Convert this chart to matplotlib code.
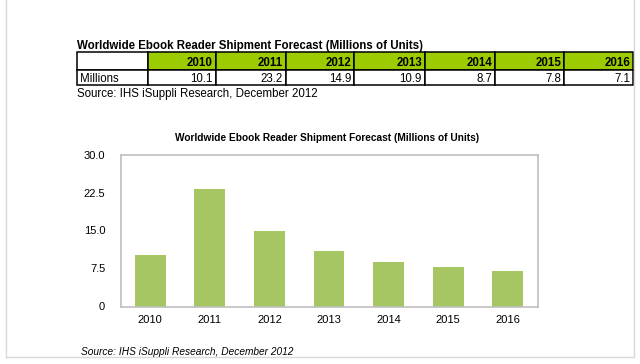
import matplotlib
matplotlib.use('Agg')
import matplotlib.pyplot as plt
from matplotlib.patches import Rectangle
from matplotlib.lines import Line2D

# data
years = ['2010', '2011', '2012', '2013', '2014', '2015', '2016']
millions = [10.1, 23.2, 14.9, 10.9, 8.7, 7.8, 7.1]
yticks = [0, 7.5, 15.0, 22.5, 30.0]
ytick_labels = ['0', '7.5', '15.0', '22.5', '30.0']
title = 'Worldwide Ebook Reader Shipment Forecast (Millions of Units)'
source = 'Source: IHS iSuppli Research, December 2012'

W, H = 640, 364
plt.rcParams['font.family'] = ['Liberation Sans', 'DejaVu Sans']

fig = plt.figure(figsize=(W / 100, H / 100), dpi=100)
fig.patch.set_facecolor('white')


def fx(x):
    return x / W


def fy(y):
    return 1 - y / H


# page frame (light gray)
frame = '#d9d9d9'
fig.add_artist(Line2D([fx(6), fx(6)], [1, fy(357)], color=frame, lw=1))
fig.add_artist(Line2D([fx(634), fx(634)], [1, fy(357)], color=frame, lw=1))
fig.add_artist(Line2D([fx(6), fx(634)], [fy(357), fy(357)], color=frame, lw=1))

# ---- table at the top ----
fs = 8.3
fig.text(fx(77), fy(49.5), title, fontsize=fs, fontweight='bold',
         ha='left', va='baseline')

col_edges = [76.7, 147.7, 215.7, 285.7, 354.3, 425, 495, 564, 633.3]
row_edges = [52.5, 69.5, 85.0]
green = '#9ccc00'

for i in range(len(col_edges) - 1):
    x0, x1 = col_edges[i], col_edges[i + 1]
    for j in range(2):
        y0, y1 = row_edges[j], row_edges[j + 1]
        fc = green if (j == 0 and i > 0) else 'white'
        fig.add_artist(Rectangle((fx(x0), fy(y1)), fx(x1 - x0), (y1 - y0) / H,
                                 facecolor=fc, edgecolor='black', lw=1.1))

fig.text(fx(80), fy(81.5), 'Millions', fontsize=fs, ha='left', va='baseline')
for i, (yr, v) in enumerate(zip(years, millions)):
    xr = col_edges[i + 2] - 3
    fig.text(fx(xr), fy(66.5), yr, fontsize=fs, fontweight='bold',
             ha='right', va='baseline')
    fig.text(fx(xr), fy(81.5), '{0:.1f}'.format(v), fontsize=fs,
             ha='right', va='baseline')

fig.text(fx(77), fy(97), source, fontsize=fs, ha='left', va='baseline')

# ---- bar chart ----
ax = fig.add_axes([fx(120.5), fy(306.5), (537.5 - 120.5) / W, (306.5 - 154.5) / H])
ax.bar(range(len(years)), millions, width=0.52, color='#a5c663')
ax.set_xlim(-0.5, len(years) - 0.5)
ax.set_ylim(0, 30)
ax.set_yticks(yticks)
ax.set_yticklabels(ytick_labels)
ax.set_xticks(range(len(years)))
ax.set_xticklabels(years)
ax.tick_params(axis='both', length=0, labelsize=8.0, colors='black')
ax.tick_params(axis='y', pad=11)
ax.tick_params(axis='x', pad=6)
for s in ax.spines.values():
    s.set_color('#bfbfbf')
    s.set_linewidth(1.2)

fig.text(fx(327), fy(141), title, fontsize=7.3, fontweight='bold',
         ha='center', va='baseline')

fig.text(fx(81), fy(355), source, fontsize=7.3, style='italic',
         ha='left', va='baseline')

fig.savefig('out.png', dpi=100)
